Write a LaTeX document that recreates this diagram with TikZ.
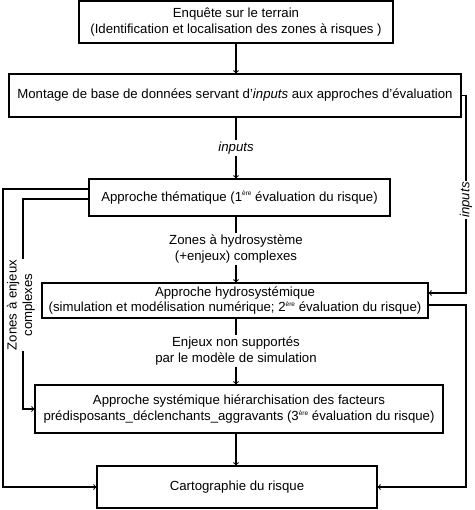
\documentclass[tikz,border=0pt]{standalone}
\usepackage{fontspec}
\setmainfont{Liberation Sans}
\usepackage{tikz}

\newcommand{\rang}[1]{\raisebox{0.75ex}{\fontsize{6.5}{6.5}\selectfont #1}}

\tikzset{
  etape/.style={draw, line width=1.1pt, align=center, inner sep=2pt},
  lien/.style={line width=1.1pt},
  legende/.style={align=center, fill=white, inner sep=1.5pt}
}

\begin{document}
\begin{tikzpicture}[x=1pt, y=-1pt, font=\fontsize{13.2}{15.5}\selectfont, >=to]
  \useasboundingbox (0,0) rectangle (474,510);
  \coordinate (spine) at (236,0);

  % boites principales
  \node[etape, minimum width=314pt, minimum height=42pt] (enquete) at (236,22)
    {Enquête sur le terrain\\(Identification et localisation des zones à risques )};
  \node[etape, minimum width=452pt, minimum height=43pt] (montage) at (235,95.5)
    {Montage de base de données servant d'\emph{inputs} aux approches d'évaluation};
  \node[etape, minimum width=301pt, minimum height=37pt] (thema) at (239.5,197.5)
    {Approche thématique (1\rang{ère} évaluation du risque)};
  \node[etape, minimum width=386pt, minimum height=35pt] (hydro) at (235,300.5)
    {Approche hydrosystémique\\(simulation et modélisation numérique; 2\rang{ère} évaluation du risque)};
  \node[etape, minimum width=408pt, minimum height=48pt] (systeme) at (239,409)
    {Approche systémique hiérarchisation des facteurs\\prédisposants\_déclenchants\_aggravants (3\rang{ère} évaluation du risque)};
  \node[etape, minimum width=280pt, minimum height=42pt] (carto) at (237,487)
    {Cartographie du risque};

  % etiquettes
  \node[legende] (lblIn) at (236,148) {\emph{inputs}};
  \node[legende] (lblHydro) at (236,249) {Zones à hydrosystème\\(+enjeux) complexes};
  \node[legende] (lblNon) at (236,351) {Enjeux non supportés\\par le modèle de simulation};
  \node[legende, rotate=90] (lblInR) at (466,200) {\emph{inputs}};
  \node[legende, rotate=90, inner sep=1pt] (lblZones) at (21,305) {Zones à enjeux\\complexes};

  % flux vertical
  \draw[lien, ->] (enquete.south -| spine) -- (montage.north -| spine);
  \draw[lien] (montage.south -| spine) -- (lblIn.north -| spine);
  \draw[lien, ->] (lblIn.south -| spine) -- (thema.north -| spine);
  \draw[lien] (thema.south -| spine) -- (lblHydro.north -| spine);
  \draw[lien, ->] (lblHydro.south -| spine) -- (hydro.north -| spine);
  \draw[lien] (hydro.south -| spine) -- (lblNon.north -| spine);
  \draw[lien, ->] (lblNon.south -| spine) -- (systeme.north -| spine);
  \draw[lien, ->] (systeme.south -| spine) -- (carto.north -| spine);

  % boucles a droite
  \coordinate (rHaut) at (466,95.5);
  \coordinate (rBas) at (466,293);
  \draw[lien] (montage.east) -- (rHaut) -- (lblInR.east);
  \draw[lien, ->] (lblInR.west) -- (rBas) -- (rBas -| hydro.east);
  \coordinate (r2Haut) at (466,305);
  \draw[lien, ->] (r2Haut -| hydro.east) -- (r2Haut) |- (carto.east);

  % boucles a gauche
  \coordinate (gExt) at (3,189);
  \draw[lien, ->] (gExt -| thema.west) -- (gExt) |- (carto.west);
  \coordinate (gInt) at (23,199);
  \draw[lien] (gInt -| thema.west) -- (gInt) -- (lblZones.east -| gInt);
  \draw[lien, ->] (lblZones.west -| gInt) |- (systeme.west);
\end{tikzpicture}
\end{document}
